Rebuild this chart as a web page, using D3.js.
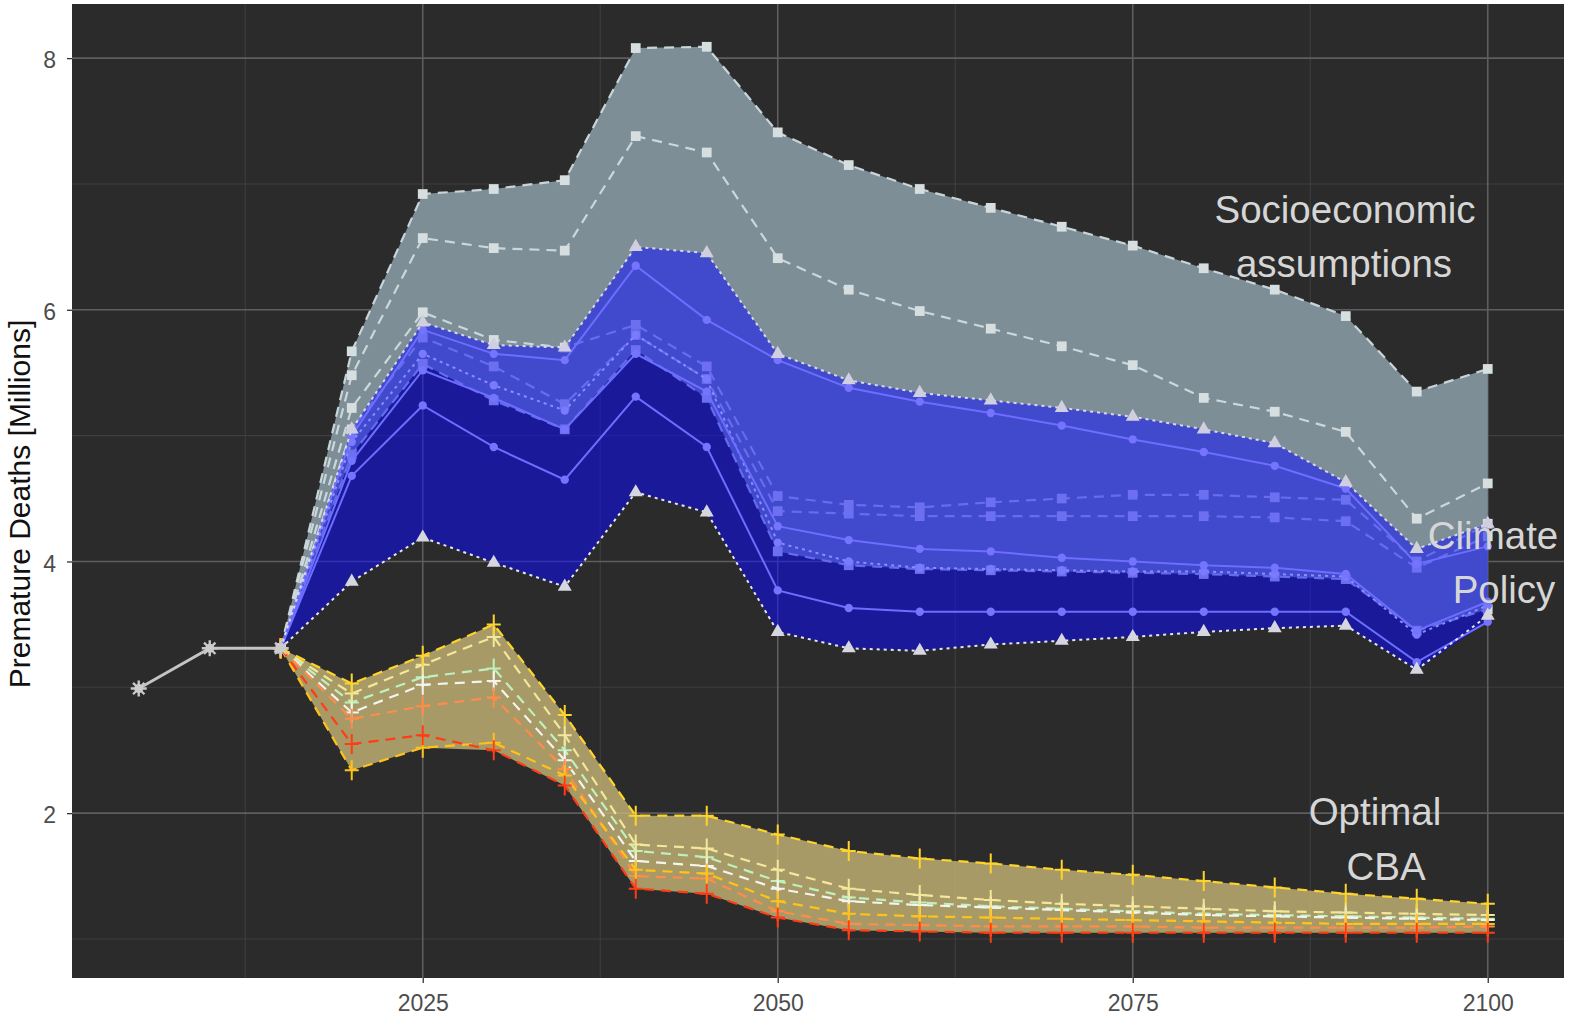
<!DOCTYPE html>
<html>
<head>
<meta charset="utf-8">
<script src="https://cdn.jsdelivr.net/npm/d3@7"></script>
<style>
  html, body { margin: 0; padding: 0; background: #ffffff; }
  svg { display: block; font-family: "Liberation Sans", Arial, Helvetica, sans-serif; }
</style>
</head>
<body>
<svg id="chart" width="1569" height="1023"></svg>
<script>
// ---- data -------------------------------------------------------------
const years = [2015, 2020, 2025, 2030, 2035, 2040, 2045, 2050, 2055, 2060,
               2065, 2070, 2075, 2080, 2085, 2090, 2095, 2100];

const historyYears  = [2005, 2010, 2015];
const historyValues = [2.99, 3.31, 3.31];

// Socioeconomic assumptions (premature deaths, millions)
const socioHigh    = [3.31, 5.67, 6.92, 6.96, 7.03, 8.08, 8.09, 7.41, 7.15, 6.96, 6.81, 6.66, 6.51, 6.33, 6.16, 5.95, 5.35, 5.53];
const socioMidHigh = [3.31, 5.48, 6.57, 6.49, 6.47, 7.38, 7.25, 6.41, 6.16, 5.99, 5.85, 5.71, 5.56, 5.30, 5.19, 5.03, 4.34, 4.62];
const socioMid     = [3.31, 5.22, 5.98, 5.76, 5.70, 5.88, 5.55, 4.52, 4.45, 4.43, 4.47, 4.50, 4.53, 4.53, 4.51, 4.49, 4.00, 4.30];
const socioMidLow  = [3.31, 5.05, 5.78, 5.55, 5.25, 5.80, 5.45, 4.40, 4.38, 4.36, 4.36, 4.36, 4.36, 4.36, 4.35, 4.32, 3.95, 4.20];
const socioLow     = [3.31, 4.85, 5.57, 5.28, 5.05, 5.68, 5.30, 4.08, 3.97, 3.94, 3.93, 3.92, 3.91, 3.90, 3.88, 3.86, 3.45, 3.62];

// Climate policy scenarios
const climateUpper = [3.31, 5.05, 5.90, 5.72, 5.70, 6.50, 6.45, 5.65, 5.44, 5.34, 5.28, 5.22, 5.15, 5.05, 4.94, 4.63, 4.10, 4.30];
const climateD     = [3.31, 5.00, 5.84, 5.65, 5.60, 6.35, 5.92, 5.60, 5.38, 5.27, 5.18, 5.08, 4.97, 4.87, 4.76, 4.58, 3.98, 4.12];
const climateC     = [3.31, 4.95, 5.65, 5.40, 5.20, 5.80, 5.45, 4.15, 4.00, 3.95, 3.94, 3.93, 3.92, 3.92, 3.90, 3.88, 3.42, 3.65];
const climateB     = [3.31, 4.80, 5.52, 5.30, 5.05, 5.65, 5.35, 4.28, 4.17, 4.10, 4.08, 4.03, 4.00, 3.97, 3.95, 3.90, 3.45, 3.68];
const climateA     = [3.31, 4.68, 5.24, 4.91, 4.65, 5.31, 4.91, 3.77, 3.63, 3.60, 3.60, 3.60, 3.60, 3.60, 3.60, 3.60, 3.20, 3.52];
const climateLower = [3.31, 3.84, 4.19, 3.99, 3.80, 4.55, 4.39, 3.44, 3.31, 3.29, 3.34, 3.37, 3.40, 3.44, 3.47, 3.49, 3.14, 3.57];

// Optimal cost-benefit analysis runs
const cbaYellow = [3.31, 3.03, 3.25, 3.50, 2.78, 1.98, 1.98, 1.83, 1.70, 1.64, 1.60, 1.55, 1.51, 1.46, 1.41, 1.36, 1.32, 1.28];
const cbaPale   = [3.31, 2.95, 3.18, 3.40, 2.62, 1.75, 1.72, 1.55, 1.40, 1.35, 1.31, 1.28, 1.26, 1.24, 1.22, 1.21, 1.20, 1.19];
const cbaGreen  = [3.31, 2.88, 3.08, 3.15, 2.50, 1.70, 1.65, 1.46, 1.33, 1.29, 1.26, 1.24, 1.22, 1.20, 1.19, 1.18, 1.17, 1.16];
const cbaWhite  = [3.31, 2.80, 3.02, 3.05, 2.42, 1.62, 1.58, 1.40, 1.30, 1.27, 1.25, 1.23, 1.21, 1.19, 1.18, 1.17, 1.16, 1.15];
const cbaOrange = [3.31, 2.75, 2.85, 2.92, 2.35, 1.50, 1.48, 1.22, 1.12, 1.11, 1.10, 1.10, 1.10, 1.09, 1.09, 1.09, 1.09, 1.10];
const cbaRed    = [3.31, 2.55, 2.62, 2.50, 2.22, 1.40, 1.36, 1.17, 1.07, 1.06, 1.05, 1.05, 1.05, 1.05, 1.05, 1.05, 1.05, 1.05];
const cbaGold   = [3.31, 2.34, 2.52, 2.56, 2.30, 1.55, 1.52, 1.30, 1.20, 1.18, 1.17, 1.16, 1.15, 1.14, 1.13, 1.12, 1.12, 1.12];

const xTicks = [2025, 2050, 2075, 2100];
const xMinorTicks = [2012.5, 2037.5, 2062.5, 2087.5];
const yTicks = [2, 4, 6, 8];
const yMinorTicks = [1, 3, 5, 7];

const yTitle = "Premature Deaths [Millions]";
const groupLabels = {
  socio: ["Socioeconomic", "assumptions"],
  climate: ["Climate", "Policy"],
  cba: ["Optimal", "CBA"]
};

// ---- layout -----------------------------------------------------------
const panel = { left: 72, right: 1564, top: 4, bottom: 978 };

const x = d3.scaleLinear().domain([2000.3, 2105.37]).range([panel.left, panel.right]);
const y = d3.scaleLinear().domain([0.69, 8.43]).range([panel.bottom, panel.top]);

const svg = d3.select("#chart");

svg.append("defs").append("clipPath").attr("id", "panel-clip")
  .append("rect")
  .attr("x", panel.left).attr("y", panel.top)
  .attr("width", panel.right - panel.left).attr("height", panel.bottom - panel.top);

// panel background
svg.append("rect")
  .attr("x", panel.left).attr("y", panel.top)
  .attr("width", panel.right - panel.left).attr("height", panel.bottom - panel.top)
  .attr("fill", "#2b2b2b");

// grid
const grid = svg.append("g");
grid.selectAll(".vminor").data(xMinorTicks).join("line")
  .attr("x1", d => x(d)).attr("x2", d => x(d))
  .attr("y1", panel.top).attr("y2", panel.bottom)
  .attr("stroke", "#3e3e3e").attr("stroke-width", 1.1);
grid.selectAll(".hminor").data(yMinorTicks).join("line")
  .attr("y1", d => y(d)).attr("y2", d => y(d))
  .attr("x1", panel.left).attr("x2", panel.right)
  .attr("stroke", "#3e3e3e").attr("stroke-width", 1.1);
grid.selectAll(".vmajor").data(xTicks).join("line")
  .attr("x1", d => x(d)).attr("x2", d => x(d))
  .attr("y1", panel.top).attr("y2", panel.bottom)
  .attr("stroke", "#5e5e5e").attr("stroke-width", 1.6);
grid.selectAll(".hmajor").data(yTicks).join("line")
  .attr("y1", d => y(d)).attr("y2", d => y(d))
  .attr("x1", panel.left).attr("x2", panel.right)
  .attr("stroke", "#5e5e5e").attr("stroke-width", 1.6);

// axes
const xAxis = svg.append("g")
  .attr("transform", `translate(0,${panel.bottom})`)
  .call(d3.axisBottom(x).tickValues(xTicks).tickFormat(d3.format("d")).tickSize(5).tickPadding(12));
xAxis.select(".domain").remove();
xAxis.selectAll(".tick line").attr("stroke", "#333333").attr("stroke-width", 1.3);
xAxis.selectAll(".tick text")
  .attr("fill", "#4d4d4d").attr("font-size", "23px")
  .attr("font-family", "'Liberation Sans', Arial, sans-serif");

const yAxis = svg.append("g")
  .attr("transform", `translate(${panel.left},0)`)
  .call(d3.axisLeft(y).tickValues(yTicks).tickFormat(d3.format("d")).tickSize(5).tickPadding(11));
yAxis.select(".domain").remove();
yAxis.selectAll(".tick line").attr("stroke", "#333333").attr("stroke-width", 1.3);
yAxis.selectAll(".tick text")
  .attr("fill", "#4d4d4d").attr("font-size", "23px")
  .attr("font-family", "'Liberation Sans', Arial, sans-serif")
  .attr("dy", "0.42em");

svg.append("text")
  .attr("transform", `translate(30,504) rotate(-90)`)
  .attr("text-anchor", "middle")
  .attr("font-size", "30px")
  .attr("fill", "#111111")
  .text(yTitle);

// ---- marks --------------------------------------------------------------
const plot = svg.append("g").attr("clip-path", "url(#panel-clip)");

const lineGen = d3.line().x((d, i) => x(years[i])).y(d => y(d));
const ribbon = series => d3.area()
  .x((d, i) => x(years[i]))
  .y0((d, i) => y(d3.min(series, s => s[i])))
  .y1((d, i) => y(d3.max(series, s => s[i])));

function drawSeries(g, values, opt) {
  g.append("path")
    .attr("d", lineGen(values))
    .attr("fill", "none")
    .attr("stroke", opt.stroke)
    .attr("stroke-width", opt.width || 2)
    .attr("stroke-dasharray", opt.dash || null)
    .attr("stroke-opacity", opt.opacity || 1);
  const pts = g.append("g");
  if (opt.marker === "plus") {
    const s = opt.size || 7;
    pts.selectAll("path").data(values).join("path")
      .attr("transform", (d, i) => `translate(${x(years[i])},${y(d)})`)
      .attr("d", `M${-s},0H${s}M0,${-s - 3}V${s + 3}`)
      .attr("stroke", opt.markerColor || opt.stroke)
      .attr("stroke-width", 2)
      .attr("fill", "none");
  } else {
    const sym = d3.symbol().type(opt.marker).size(opt.size || 80);
    pts.selectAll("path").data(values).join("path")
      .attr("transform", (d, i) => `translate(${x(years[i])},${y(d)})`)
      .attr("d", sym())
      .attr("fill", opt.markerColor || opt.stroke)
      .attr("fill-opacity", opt.markerOpacity || 1);
  }
}

// Socioeconomic assumptions
const socioSeries = [socioHigh, socioMidHigh, socioMid, socioMidLow, socioLow];
const gSocio = plot.append("g");
gSocio.append("path").datum(years).attr("d", ribbon(socioSeries)).attr("fill", "#7d8e96");
socioSeries.forEach(s => drawSeries(gSocio, s, {
  stroke: "#cfdbde", width: 2.2, dash: "10,7", marker: d3.symbolSquare, size: 95,
  markerColor: "#d6dee0", opacity: 0.95
}));

// Climate policy
const climateSeries = [climateUpper, climateD, climateC, climateB, climateA, climateLower];
const gClim = plot.append("g");
gClim.append("path").datum(years).attr("d", ribbon(climateSeries))
  .attr("fill", "#0a0aff").attr("fill-opacity", 0.52);
drawSeries(gClim, climateD, { stroke: "#6d6dff", width: 2, marker: d3.symbolCircle, size: 55, markerColor: "#7474ff" });
drawSeries(gClim, climateC, { stroke: "#8c8cff", width: 2, dash: "3,4", marker: d3.symbolCircle, size: 55, markerColor: "#7a7aff" });
drawSeries(gClim, climateB, { stroke: "#6d6dff", width: 2, marker: d3.symbolCircle, size: 55, markerColor: "#7474ff" });
drawSeries(gClim, climateA, { stroke: "#6d6dff", width: 2, marker: d3.symbolCircle, size: 55, markerColor: "#7474ff" });
drawSeries(gClim, climateUpper, { stroke: "#d8d8ee", width: 2, dash: "3,4", marker: d3.symbolTriangle, size: 85, markerColor: "#cfcfdf" });
drawSeries(gClim, climateLower, { stroke: "#e6e6ee", width: 2, dash: "3,4", marker: d3.symbolTriangle, size: 85, markerColor: "#d6d6e0" });

// Optimal CBA
const cbaSeries = [cbaYellow, cbaPale, cbaGreen, cbaWhite, cbaOrange, cbaRed, cbaGold];
const gCba = plot.append("g");
gCba.append("path").datum(years).attr("d", ribbon(cbaSeries))
  .attr("fill", "#c8b676").attr("fill-opacity", 0.8);
drawSeries(gCba, cbaGreen,  { stroke: "#bff0bf", width: 2.2, dash: "10,7", marker: "plus", size: 7 });
drawSeries(gCba, cbaWhite,  { stroke: "#f4f4ee", width: 2.2, dash: "10,7", marker: "plus", size: 7 });
drawSeries(gCba, cbaPale,   { stroke: "#f2e79a", width: 2.2, dash: "10,7", marker: "plus", size: 7 });
drawSeries(gCba, cbaOrange, { stroke: "#ff8c4a", width: 2.2, dash: "10,7", marker: "plus", size: 7 });
drawSeries(gCba, cbaGold,   { stroke: "#ffc21a", width: 2.2, dash: "10,7", marker: "plus", size: 7 });
drawSeries(gCba, cbaRed,    { stroke: "#ff3c14", width: 2.2, dash: "10,7", marker: "plus", size: 7 });
drawSeries(gCba, cbaYellow, { stroke: "#ffd42a", width: 2.2, dash: "10,7", marker: "plus", size: 7 });

// Historical estimate
const gHist = plot.append("g");
gHist.append("path")
  .attr("d", d3.line().x((d, i) => x(historyYears[i])).y(d => y(d))(historyValues))
  .attr("fill", "none").attr("stroke", "#c4c4c4").attr("stroke-width", 3);
const star = `M-8,0H8M0,-8V8M-5.7,-5.7L5.7,5.7M-5.7,5.7L5.7,-5.7`;
gHist.selectAll(".star").data(historyValues).join("g")
  .attr("transform", (d, i) => `translate(${x(historyYears[i])},${y(d)})`)
  .each(function () {
    const s = d3.select(this);
    s.append("path").attr("d", star).attr("stroke", "#c8c8c8").attr("stroke-width", 2.4);
    s.append("circle").attr("r", 4.5).attr("fill", "#cccccc");
  });

// ---- group labels -----------------------------------------------------
const labelStyle = sel => sel
  .attr("text-anchor", "middle")
  .attr("font-size", "38.5px")
  .attr("fill", "#d6d6d6");

svg.append("text").call(labelStyle).attr("x", 1345).attr("y", 223).text(groupLabels.socio[0]);
svg.append("text").call(labelStyle).attr("x", 1344).attr("y", 277).text(groupLabels.socio[1]);
svg.append("text").call(labelStyle).attr("x", 1493).attr("y", 549).text(groupLabels.climate[0]);
svg.append("text").call(labelStyle).attr("x", 1504).attr("y", 603).text(groupLabels.climate[1]);
svg.append("text").call(labelStyle).attr("x", 1375).attr("y", 825).text(groupLabels.cba[0]);
svg.append("text").call(labelStyle).attr("x", 1386).attr("y", 880).text(groupLabels.cba[1]);
</script>
</body>
</html>
